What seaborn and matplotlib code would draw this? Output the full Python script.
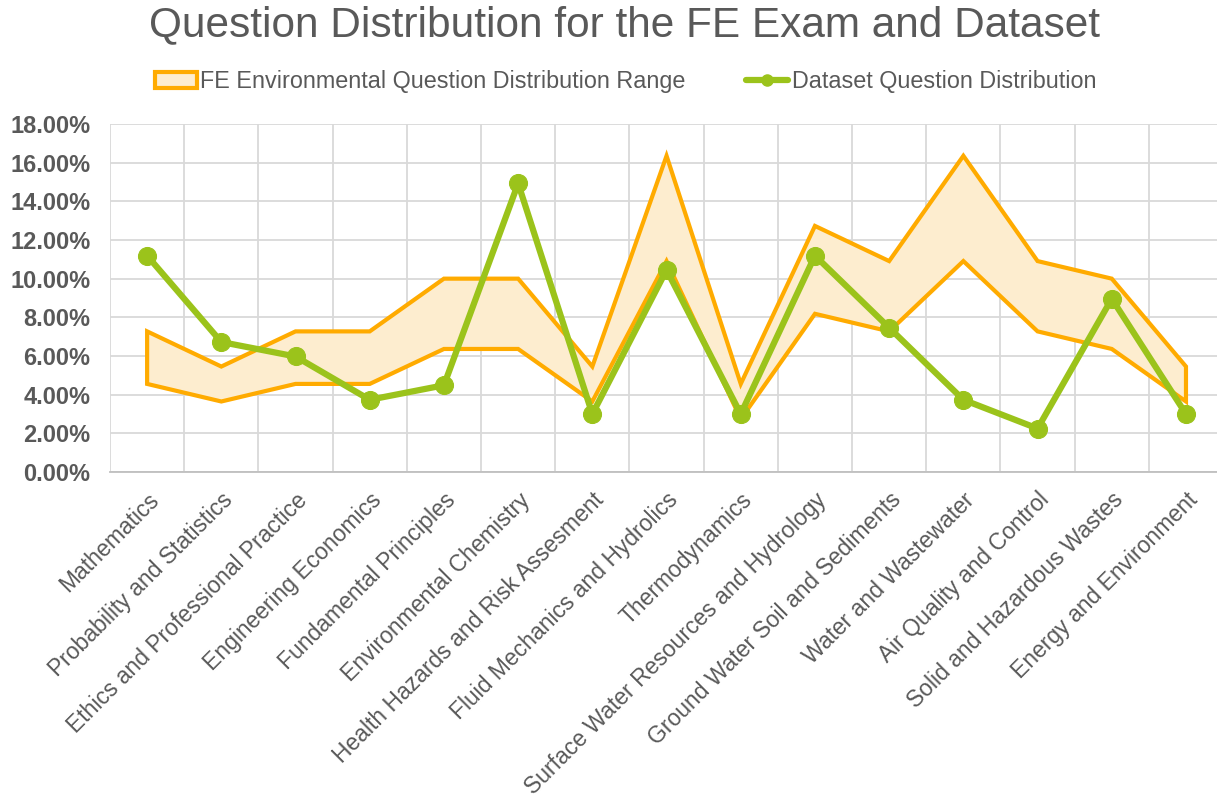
import matplotlib
matplotlib.use("Agg")
import matplotlib.pyplot as plt
import seaborn as sns
import numpy as np
import pandas as pd
from matplotlib.ticker import FuncFormatter, MultipleLocator, FixedLocator
from matplotlib.patches import Patch
from matplotlib.lines import Line2D

# 데이터 (%)
categories = [
    "Mathematics", "Probability and Statistics", "Ethics and Professional Practice",
    "Engineering Economics", "Fundamental Principles", "Environmental Chemistry",
    "Health Hazards and Risk Assesment", "Fluid Mechanics and Hydrolics",
    "Thermodynamics", "Surface Water Resources and Hydrology",
    "Ground Water Soil and Sediments", "Water and Wastewater",
    "Air Quality and Control", "Solid and Hazardous Wastes", "Energy and Environment",
]
fe_low = [4.55, 3.64, 4.55, 4.55, 6.36, 6.36, 3.64, 10.91, 2.73, 8.18, 7.27, 10.91, 7.27, 6.36, 3.64]
fe_high = [7.27, 5.45, 7.27, 7.27, 10.00, 10.00, 5.45, 16.36, 4.55, 12.73, 10.91, 16.36, 10.91, 10.00, 5.45]
dataset = [11.19, 6.72, 5.97, 3.73, 4.48, 14.93, 2.99, 10.45, 2.99, 11.19, 7.46, 3.73, 2.24, 8.96, 2.99]

ORANGE = "#FFAB00"
FILL = "#FDEDCF"
GREEN = "#9BC31B"
GRAY = "#595959"
GRID = "#D9D9D9"

sns.set_style("white")
plt.rcParams['font.family'] = ['Liberation Sans', 'DejaVu Sans']

df = pd.DataFrame({"x": np.arange(len(categories)), "dataset": dataset})

fig = plt.figure(figsize=(12.17, 8.01), dpi=100)
ax = fig.add_axes([0.0904, 0.411, 0.9146, 0.434])

# 범위 영역 (닫힌 다각형)
xs = np.arange(len(categories))
poly_x = np.concatenate([xs, xs[::-1]])
poly_y = np.concatenate([fe_high, fe_low[::-1]])
ax.fill(poly_x, poly_y, facecolor=FILL, edgecolor=ORANGE, linewidth=3, zorder=2)

sns.lineplot(data=df, x="x", y="dataset", color=GREEN, linewidth=4.5, marker="o",
             markersize=13, markeredgecolor=GREEN, ax=ax, zorder=3)

ax.set_xlim(-0.5, len(categories) - 0.5)
ax.set_ylim(0, 18)
ax.yaxis.set_major_locator(MultipleLocator(2))
ax.yaxis.set_major_formatter(FuncFormatter(lambda v, p: f"{v:.2f}%"))
ax.xaxis.set_major_locator(FixedLocator(xs))
ax.xaxis.set_minor_locator(FixedLocator(np.arange(len(categories) + 1) - 0.5))
ax.set_xticklabels(categories, rotation=45, ha="right", rotation_mode="anchor",
                   fontsize=16.5, color=GRAY)
ax.grid(axis="y", which="major", color=GRID, linewidth=1.3)
ax.grid(axis="x", which="minor", color=GRID, linewidth=1.3)
ax.set_axisbelow(True)
ax.tick_params(axis="y", length=0, labelsize=17, labelcolor=GRAY, pad=14)
ax.tick_params(axis="x", which="both", length=0, pad=12)
for lbl in ax.get_yticklabels():
    lbl.set_fontweight("bold")
for s in ["top", "right", "left"]:
    ax.spines[s].set_visible(False)
ax.spines["bottom"].set_color("#BFBFBF")
ax.spines["bottom"].set_linewidth(1.3)
ax.set_xlabel("")
ax.set_ylabel("")

fig.text(0.513, 0.969, "Question Distribution for the FE Exam and Dataset",
         fontsize=30.5, color=GRAY, ha="center", va="center")

handles = [
    Patch(facecolor=FILL, edgecolor=ORANGE, linewidth=3,
          label="FE Environmental Question Distribution Range"),
    Line2D([0], [0], color=GREEN, linewidth=4.5, marker="o", markersize=8,
           label="Dataset Question Distribution"),
]
fig.legend(handles=handles, loc="center", bbox_to_anchor=(0.514, 0.898), ncol=2,
           frameon=False, fontsize=16.8, labelcolor=GRAY, handlelength=1.8,
           handletextpad=0.15, columnspacing=2.6)

fig.savefig("out.png", dpi=100)
